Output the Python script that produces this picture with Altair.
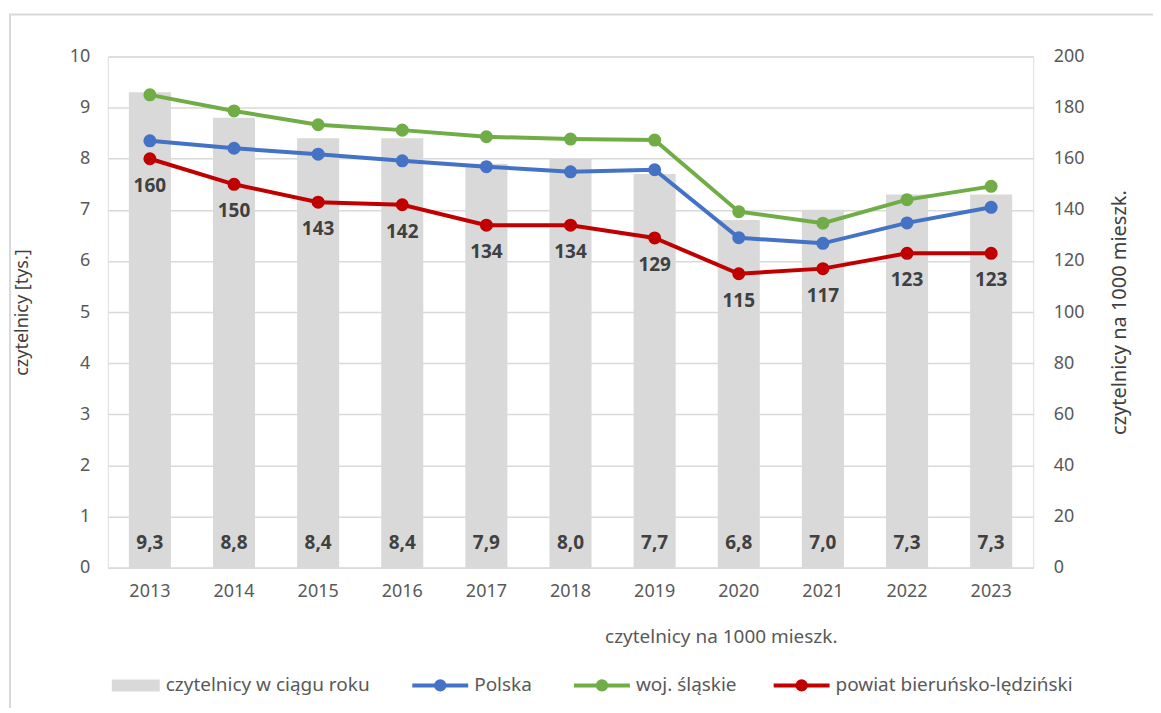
import altair as alt
import pandas as pd

years = [str(y) for y in range(2013, 2024)]
readers = [9.3, 8.8, 8.4, 8.4, 7.9, 8.0, 7.7, 6.8, 7.0, 7.3, 7.3]
polska = [167.0, 164.1, 161.8, 159.2, 156.9, 154.9, 155.7, 129.1, 126.9, 134.9, 141.0]
slaskie = [185.0, 178.7, 173.3, 171.2, 168.6, 167.7, 167.3, 139.3, 134.8, 144.0, 149.2]
powiat = [160, 150, 143, 142, 134, 134, 129, 115, 117, 123, 123]

bar_name = "czytelnicy w ciągu roku"
series_names = ["Polska", "woj. śląskie", "powiat bieruńsko-lędziński"]
series_colors = ["#4472C4", "#70AD47", "#C00000"]

FONT = "Noto Sans"
TXT = "#595959"
LBL = "#404040"

bars_df = pd.DataFrame({
    "rok": years,
    "czytelnicy": readers,
    "etykieta": [f"{v:.1f}".replace(".", ",") for v in readers],
    "typ": bar_name,
})

rows = []
for name, vals in zip(series_names, [polska, slaskie, powiat]):
    for y, v in zip(years, vals):
        rows.append({"rok": y, "seria": name, "wartosc": v})
lines_df = pd.DataFrame(rows)
red_df = pd.DataFrame({"rok": years, "wartosc": powiat, "etykieta": [str(v) for v in powiat]})

x_enc = alt.X(
    "rok:N",
    sort=years,
    scale=alt.Scale(paddingInner=0.5, paddingOuter=0.25),
    axis=alt.Axis(
        title="czytelnicy na 1000 mieszk.",
        titleX=614, titleY=60, titleAlign="center", titleAnchor="start",
        titleFont=FONT, titleFontSize=19, titleFontWeight="normal", titleColor=TXT,
        labelAngle=0, labelFont=FONT, labelFontSize=18, labelColor=TXT,
        labelPadding=15, ticks=False, domain=True, domainColor="#D9D9D9", domainWidth=1.5,
        grid=False,
    ),
)

y_left = alt.Scale(domain=[0, 10], nice=False)
y_right = alt.Scale(domain=[0, 200], nice=False)
color_scale = alt.Scale(domain=series_names, range=series_colors)

bar_symbol = "M-1,-0.25L1,-0.25L1,0.25L-1,0.25Z"

bars = alt.Chart(bars_df).mark_bar(color="#D9D9D9").encode(
    x=x_enc,
    y=alt.Y("czytelnicy:Q", scale=y_left, axis=alt.Axis(
        title="czytelnicy [tys.]", values=list(range(0, 11)), labelOverlap=False,
        labelFont=FONT, labelFontSize=18, labelColor=TXT, labelPadding=18,
        titleFont=FONT, titleFontSize=18, titleFontWeight="normal", titleColor=LBL,
        titlePadding=38, ticks=False, domain=False, grid=True,
        gridColor="#D9D9D9", gridWidth=1.5,
    )),
    fill=alt.Fill("typ:N", scale=alt.Scale(domain=[bar_name], range=["#D9D9D9"]),
                  legend=alt.Legend(
                      title=None, orient="none", legendX=4, legendY=606,
                      direction="horizontal", symbolType=bar_symbol, symbolSize=2304,
                      symbolStrokeWidth=0, labelFont=FONT, labelFontSize=19,
                      labelColor=TXT, labelOffset=6, labelLimit=400, symbolOpacity=1)),
)

bar_labels = alt.Chart(bars_df).mark_text(
    font=FONT, fontSize=19, fontWeight="bold", color=LBL, dy=-25, baseline="middle"
).encode(
    x=alt.X("rok:N", sort=years),
    y=alt.datum(0, scale=y_left),
    text="etykieta:N",
)

lines = alt.Chart(lines_df).mark_line(strokeWidth=4).encode(
    x=alt.X("rok:N", sort=years),
    y=alt.Y("wartosc:Q", scale=y_right, axis=alt.Axis(
        title="czytelnicy na 1000 mieszk.", orient="right", titleAngle=270,
        values=list(range(0, 201, 20)), labelOverlap=False,
        labelFont=FONT, labelFontSize=18, labelColor=TXT, labelPadding=20,
        titleFont=FONT, titleFontSize=20, titleFontWeight="normal", titleColor=LBL,
        titlePadding=46, ticks=False, domain=False, grid=False,
    )),
    stroke=alt.Stroke("seria:N", scale=color_scale, legend=None),
    detail="seria:N",
)

points = alt.Chart(lines_df).mark_point(filled=True, size=170, opacity=1).encode(
    x=alt.X("rok:N", sort=years),
    y=alt.Y("wartosc:Q", scale=y_right),
    color=alt.Color("seria:N", scale=color_scale, legend=None),
)

red_labels = alt.Chart(red_df).mark_text(
    font=FONT, fontSize=19, fontWeight="bold", color=LBL, dy=27, baseline="middle"
).encode(
    x=alt.X("rok:N", sort=years),
    y=alt.Y("wartosc:Q", scale=y_right),
    text="etykieta:N",
)

# legend entries for the lines (line + marker + label)
legend_layers = []
LEG_Y = 630
for name, color, x0 in zip(series_names, series_colors, [305, 467, 667]):
    one = alt.Chart(lines_df).transform_filter(
        (alt.datum.seria == name) & (alt.datum.rok == years[0])
    )
    legend_layers += [
        one.mark_rule(color=color, strokeWidth=4).encode(
            x=alt.value(x0), x2=alt.value(x0 + 56), y=alt.value(LEG_Y)),
        one.mark_point(filled=True, color=color, size=150, opacity=1).encode(
            x=alt.value(x0 + 28), y=alt.value(LEG_Y)),
        one.mark_text(align="left", baseline="middle", font=FONT, fontSize=19,
                      color=TXT).encode(
            x=alt.value(x0 + 62), y=alt.value(LEG_Y), text="seria:N"),
    ]

frame = alt.Chart(bars_df).mark_rect(
    fill=None, stroke="#D9D9D9", strokeWidth=2
).encode(
    x=alt.value(-98), x2=alt.value(1100), y=alt.value(-42), y2=alt.value(700)
).transform_filter(alt.datum.rok == "2013")

left = alt.layer(frame, bars, bar_labels)
right = alt.layer(lines, points, red_labels, *legend_layers)

chart = alt.layer(left, right).resolve_scale(
    y="independent"
).properties(
    width=927, height=512,
    autosize=alt.AutoSizeParams(type="none"),
    padding={"left": 100, "top": 48, "right": 120, "bottom": 140},
).configure_view(stroke=None).configure(background="white")

chart.save("out.html", embed_options={"renderer": "svg", "actions": False})
